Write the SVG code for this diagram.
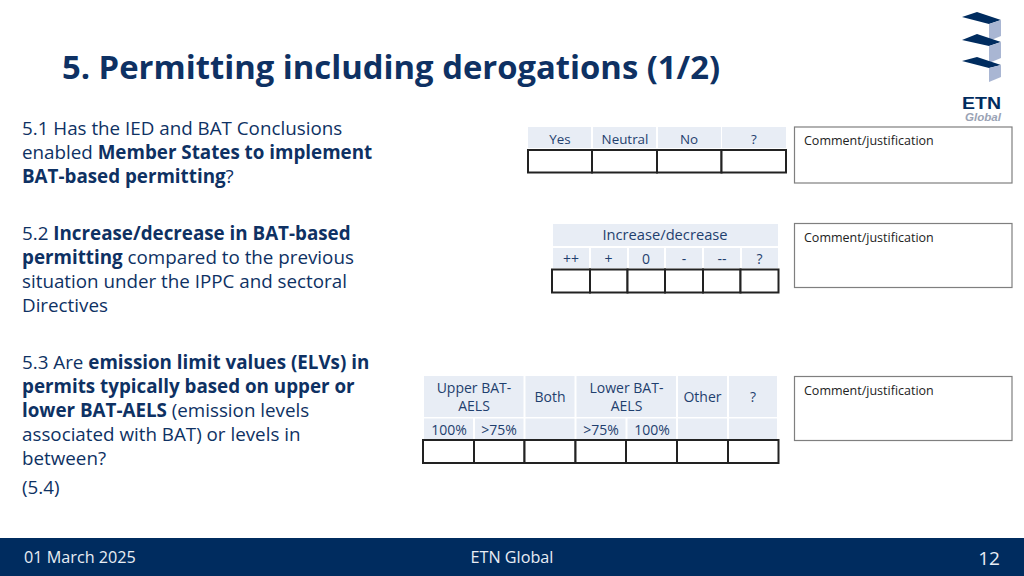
<svg xmlns="http://www.w3.org/2000/svg" width="1024" height="576" viewBox="0 0 1024 576">
<style>
text{font-family:"Open Sans","Noto Sans","Liberation Sans",sans-serif;fill:#0e3163}
.t{font-size:18.800px}
.b{font-weight:700}
.h{font-size:14px;text-anchor:middle;fill:#1f3f6e}
.h1{font-size:13.400px}
.h2{font-size:14.700px}
.c{font-size:12.500px;fill:#222}
.f{font-size:16.200px;fill:#e8edf4}
.hd{fill:#e8edf5}
.g{fill:#fff;stroke:#222;stroke-width:2}
.cb{fill:#fff;stroke:#7f7f7f;stroke-width:1.200}
.dk{fill:#002c5f}
.lt{fill:#a9b6d3}
</style>
<rect width="1024" height="576" fill="#fff"/>
<text id="title" x="62" y="79" font-size="32.800" class="b">5. Permitting including derogations (1/2)</text>
<g id="logo">
<polygon class="dk" points="962,17 977,12 1001,20 989,24"/><polygon class="lt" points="989,24 1001,20 1001,36 989,41"/>
<polygon class="dk" points="962,40 977,34 1001,42 989,46"/><polygon class="lt" points="989,46 1001,42 1001,58 989,63"/>
<polygon class="dk" points="962,61 977,57 1001,65 989,68"/><polygon class="lt" points="989,68 1001,65 1001,77 989,82"/>
<text x="962" y="108.500" font-size="17" textLength="39" lengthAdjust="spacingAndGlyphs" style="font-family:'Liberation Sans',sans-serif;fill:#002c5f;font-weight:700">ETN</text>
<text x="965" y="120.500" font-size="10" textLength="36" lengthAdjust="spacingAndGlyphs" style="font-family:'Liberation Sans',sans-serif;fill:#9aa3b5;font-style:italic;font-weight:700">Global</text>
</g>
<g id="q1" class="t">
<text x="22" y="135">5.1 Has the IED and BAT Conclusions</text>
<text x="22" y="159">enabled <tspan class="b">Member States to implement</tspan></text>
<text x="22" y="183"><tspan class="b">BAT-based permitting</tspan>?</text>
</g>
<g id="q2" class="t">
<text x="22" y="240">5.2 <tspan class="b">Increase/decrease in BAT-based</tspan></text>
<text x="22" y="264"><tspan class="b">permitting</tspan> compared to the previous</text>
<text x="22" y="288">situation under the IPPC and sectoral</text>
<text x="22" y="312">Directives</text>
</g>
<g id="q3" class="t">
<text x="22" y="369">5.3 Are <tspan class="b">emission limit values (ELVs) in</tspan></text>
<text x="22" y="393"><tspan class="b">permits typically based on upper or</tspan></text>
<text x="22" y="417"><tspan class="b">lower BAT-AELS</tspan> (emission levels</text>
<text x="22" y="441">associated with BAT) or levels in</text>
<text x="22" y="465">between?</text>
<text x="22" y="494">(5.4)</text>
</g>
<g id="table1">
<rect class="hd" x="528" y="127" width="63" height="21"/><rect class="hd" x="593" y="127" width="63" height="21"/><rect class="hd" x="658" y="127" width="63" height="21"/><rect class="hd" x="722" y="127" width="64" height="21"/>
<text class="h h1" x="560" y="143.500">Yes</text><text class="h h1" x="625" y="143.500">Neutral</text><text class="h h1" x="689" y="143.500">No</text><text class="h h1" x="754" y="143.500">?</text>
<rect class="g" x="528" y="150" width="64" height="22.500"/><rect class="g" x="592" y="150" width="65" height="22.500"/><rect class="g" x="657" y="150" width="64.500" height="22.500"/><rect class="g" x="721.500" y="150" width="64.500" height="22.500"/>
</g>
<g id="comment1"><rect class="cb" x="794.500" y="127" width="217.500" height="56"/><text class="c" x="804" y="145">Comment/justification</text></g>
<g id="table2">
<rect class="hd" x="553" y="224" width="225" height="22"/>
<rect class="hd" x="553" y="248" width="36" height="20"/><rect class="hd" x="591" y="248" width="36" height="20"/><rect class="hd" x="629" y="248" width="35" height="20"/><rect class="hd" x="666" y="248" width="36" height="20"/><rect class="hd" x="704" y="248" width="36" height="20"/><rect class="hd" x="742" y="248" width="36" height="20"/>
<text class="h h2" x="665" y="240">Increase/decrease</text>
<text class="h" x="571" y="264">++</text><text class="h" x="608.500" y="264">+</text><text class="h" x="646" y="264">0</text><text class="h" x="684" y="264">-</text><text class="h" x="722" y="264">--</text><text class="h" x="759.500" y="264">?</text>
<rect class="g" x="552" y="269.500" width="38" height="23"/><rect class="g" x="590" y="269.500" width="37.500" height="23"/><rect class="g" x="627.500" y="269.500" width="37.500" height="23"/><rect class="g" x="665" y="269.500" width="38" height="23"/><rect class="g" x="703" y="269.500" width="37.500" height="23"/><rect class="g" x="740.500" y="269.500" width="38" height="23"/>
</g>
<g id="comment2"><rect class="cb" x="794.500" y="223.500" width="217.500" height="64"/><text class="c" x="804" y="242">Comment/justification</text></g>
<g id="table3">
<rect class="hd" x="424" y="376" width="99.500" height="41"/><rect class="hd" x="525.500" y="376" width="49" height="41"/><rect class="hd" x="576.500" y="376" width="99.500" height="41"/><rect class="hd" x="678" y="376" width="49" height="41"/><rect class="hd" x="729" y="376" width="48" height="41"/>
<rect class="hd" x="424" y="418.500" width="49" height="21"/><rect class="hd" x="475" y="418.500" width="48.500" height="21"/><rect class="hd" x="525.500" y="418.500" width="49" height="21"/><rect class="hd" x="576.500" y="418.500" width="49" height="21"/><rect class="hd" x="627.500" y="418.500" width="48.500" height="21"/><rect class="hd" x="678" y="418.500" width="49" height="21"/><rect class="hd" x="729" y="418.500" width="48" height="21"/>
<text class="h" x="474" y="393">Upper BAT-</text><text class="h" x="474" y="411">AELS</text>
<text class="h" x="550" y="402">Both</text>
<text class="h" x="626.500" y="393">Lower BAT-</text><text class="h" x="626.500" y="411">AELS</text>
<text class="h" x="702.500" y="402">Other</text><text class="h" x="753" y="402">?</text>
<text class="h" x="449" y="434.500">100%</text><text class="h" x="499" y="434.500">&gt;75%</text><text class="h" x="601" y="434.500">&gt;75%</text><text class="h" x="652" y="434.500">100%</text>
<rect class="g" x="423" y="440" width="51" height="23"/><rect class="g" x="474" y="440" width="50.500" height="23"/><rect class="g" x="524.500" y="440" width="51" height="23"/><rect class="g" x="575.500" y="440" width="50.500" height="23"/><rect class="g" x="626" y="440" width="51" height="23"/><rect class="g" x="677" y="440" width="51" height="23"/><rect class="g" x="728" y="440" width="50.500" height="23"/>
</g>
<g id="comment3"><rect class="cb" x="794.500" y="376.500" width="217.500" height="64"/><text class="c" x="804" y="395">Comment/justification</text></g>
<g id="footer">
<rect class="dk" x="0" y="538" width="1024" height="38"/>
<text class="f" x="24" y="563">01 March 2025</text>
<text class="f" x="512" y="563" text-anchor="middle">ETN Global</text>
<text x="989" y="565" font-size="19" text-anchor="middle" style="fill:#e8edf4">12</text>
</g>
</svg>
